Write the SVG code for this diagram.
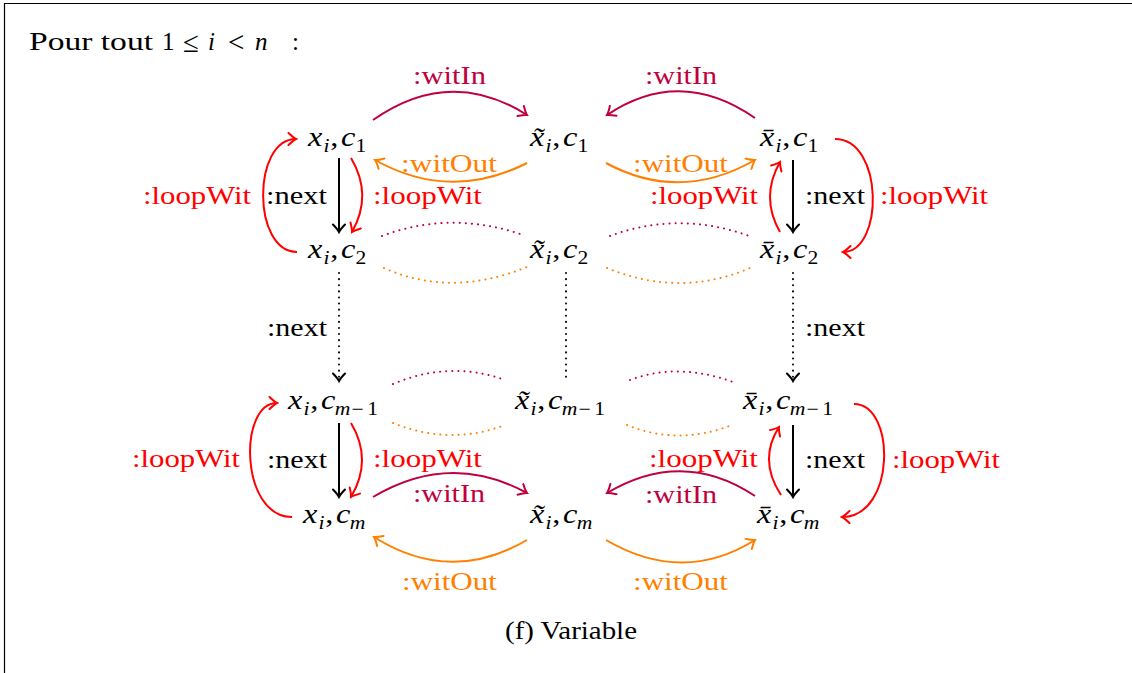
<svg xmlns="http://www.w3.org/2000/svg" width="1132" height="673" viewBox="0 0 1132 673">
<style>
text{font-family:"Liberation Serif","Times New Roman",serif;font-size:25px;fill:#000}
.node text{font-size:27px}
.it{font-style:italic}
.sub{font-size:18px}
.op{font-size:29px}
.e{fill:none;stroke-width:2}
.dot{fill:none;stroke-width:2;stroke-dasharray:0.1 6;stroke-linecap:round}
.blk{stroke:#000}
.red{stroke:#FF0000}
.org{stroke:#FF8000}
.pur{stroke:#BF0040}
.lred{fill:#FF0000}
.lorg{fill:#FF8000}
.lpur{fill:#BF0040}
</style>
<defs>
<marker id="ah-blk" viewBox="-10 -7 12 14" markerWidth="12" markerHeight="14" refX="0" refY="0" orient="auto" markerUnits="userSpaceOnUse"><path d="M-7.5,-6 Q-2.5,-1.2 0,0 Q-2.5,1.2 -7.5,6" fill="none" stroke="#000" stroke-width="2" stroke-linecap="round"/></marker>
<marker id="ah-red" viewBox="-10 -7 12 14" markerWidth="12" markerHeight="14" refX="0" refY="0" orient="auto" markerUnits="userSpaceOnUse"><path d="M-7.5,-6 Q-2.5,-1.2 0,0 Q-2.5,1.2 -7.5,6" fill="none" stroke="#FF0000" stroke-width="2" stroke-linecap="round"/></marker>
<marker id="ah-org" viewBox="-10 -7 12 14" markerWidth="12" markerHeight="14" refX="0" refY="0" orient="auto" markerUnits="userSpaceOnUse"><path d="M-7.5,-6 Q-2.5,-1.2 0,0 Q-2.5,1.2 -7.5,6" fill="none" stroke="#FF8000" stroke-width="2" stroke-linecap="round"/></marker>
<marker id="ah-pur" viewBox="-10 -7 12 14" markerWidth="12" markerHeight="14" refX="0" refY="0" orient="auto" markerUnits="userSpaceOnUse"><path d="M-7.5,-6 Q-2.5,-1.2 0,0 Q-2.5,1.2 -7.5,6" fill="none" stroke="#BF0040" stroke-width="2" stroke-linecap="round"/></marker>
</defs>
<rect width="1132" height="673" fill="#fff"/>
<path d="M4.5,680 V3.5 H1140" fill="none" stroke="#000" stroke-width="1.2"/>
<text id="heading" y="50" font-size="26"><tspan x="29" textLength="124" lengthAdjust="spacingAndGlyphs">Pour tout</tspan><tspan x="162">1</tspan><tspan x="183" y="52" class="op">≤</tspan><tspan x="208" y="50" class="it">i</tspan><tspan x="228" y="52" class="op">&lt;</tspan><tspan x="255" y="50" class="it">n</tspan><tspan x="292">:</tspan></text>

<g id="connectors">
<path class="e pur" d="M373,120 Q450,66 527,115" marker-end="url(#ah-pur)"/>
<path class="e org" d="M527,163 Q450,202 375,160" marker-end="url(#ah-org)"/>
<path class="e pur" d="M755,118 Q680,66 607,115" marker-end="url(#ah-pur)"/>
<path class="e org" d="M606,163 Q680,203 755,160" marker-end="url(#ah-org)"/>
<path class="e blk" d="M339,158 L339,232" marker-end="url(#ah-blk)"/>
<path class="e red" d="M351,158 Q373,195 352,232" marker-end="url(#ah-red)"/>
<path class="e red" d="M297,252 C252,252 252,139 296,139" marker-end="url(#ah-red)"/>
<path class="e blk" d="M793,160 L793,232" marker-end="url(#ah-blk)"/>
<path class="e red" d="M780,232 Q760,197 780,162" marker-end="url(#ah-red)"/>
<path class="e red" d="M835,139 C884,139 884,252 843,252" marker-end="url(#ah-red)"/>
<path class="dot pur" d="M382,236 Q451,210 523,235"/>
<path class="dot org" d="M384,268 Q451,298 527,267"/>
<path class="dot pur" d="M610,236 Q680,210 752,237"/>
<path class="dot org" d="M607,268 Q680,298 750,268"/>
<path class="dot blk" d="M339,273 L339,381" marker-end="url(#ah-blk)"/>
<path class="dot blk" d="M566,273 L566,380"/>
<path class="dot blk" d="M793,273 L793,381" marker-end="url(#ah-blk)"/>
<path class="dot pur" d="M393,384 Q450,360 505,380"/>
<path class="dot org" d="M393,423 Q450,446 505,425"/>
<path class="dot pur" d="M630,380 Q678,362 733,382"/>
<path class="dot org" d="M627,425 Q678,446 732,425"/>
<path class="e blk" d="M339,423 L339,497" marker-end="url(#ah-blk)"/>
<path class="e red" d="M351,423 Q373,460 351,497" marker-end="url(#ah-red)"/>
<path class="e red" d="M292,517 C240,517 238,403 277,403" marker-end="url(#ah-red)"/>
<path class="e pur" d="M373,497 Q450,451 527,493" marker-end="url(#ah-pur)"/>
<path class="e org" d="M527,540 Q450,585 374,537" marker-end="url(#ah-org)"/>
<path class="e blk" d="M793,425 L793,497" marker-end="url(#ah-blk)"/>
<path class="e red" d="M781,495 Q758,460 779,427" marker-end="url(#ah-red)"/>
<path class="e red" d="M854,404 C896,404 896,517 842,517" marker-end="url(#ah-red)"/>
<path class="e pur" d="M755,496 Q683,448 607,493" marker-end="url(#ah-pur)"/>
<path class="e org" d="M606,540 Q683,585 755,540" marker-end="url(#ah-org)"/>

<g id="edge-labels">
<text class="lpur" x="413" y="84" textLength="73" lengthAdjust="spacingAndGlyphs">:witIn</text>
<text class="lpur" x="645" y="84" textLength="72" lengthAdjust="spacingAndGlyphs">:witIn</text>
<text class="lorg" x="401" y="172" textLength="96" lengthAdjust="spacingAndGlyphs">:witOut</text>
<text class="lorg" x="633" y="172" textLength="95" lengthAdjust="spacingAndGlyphs">:witOut</text>
<text x="266" y="204" textLength="61" lengthAdjust="spacingAndGlyphs">:next</text>
<text class="lred" x="373" y="204" textLength="109" lengthAdjust="spacingAndGlyphs">:loopWit</text>
<text class="lred" x="143" y="204" textLength="108" lengthAdjust="spacingAndGlyphs">:loopWit</text>
<text class="lred" x="650" y="204" textLength="108" lengthAdjust="spacingAndGlyphs">:loopWit</text>
<text x="805" y="204" textLength="60" lengthAdjust="spacingAndGlyphs">:next</text>
<text class="lred" x="880" y="204" textLength="108" lengthAdjust="spacingAndGlyphs">:loopWit</text>
<text x="267" y="336" textLength="60" lengthAdjust="spacingAndGlyphs">:next</text>
<text x="805" y="336" textLength="60" lengthAdjust="spacingAndGlyphs">:next</text>
<text x="267" y="468" textLength="60" lengthAdjust="spacingAndGlyphs">:next</text>
<text class="lred" x="373" y="467" textLength="109" lengthAdjust="spacingAndGlyphs">:loopWit</text>
<text class="lred" x="132" y="467" textLength="108" lengthAdjust="spacingAndGlyphs">:loopWit</text>
<text class="lred" x="649" y="467" textLength="109" lengthAdjust="spacingAndGlyphs">:loopWit</text>
<text x="805" y="468" textLength="60" lengthAdjust="spacingAndGlyphs">:next</text>
<text class="lred" x="892" y="468" textLength="108" lengthAdjust="spacingAndGlyphs">:loopWit</text>
<text class="lpur" x="413" y="502" textLength="72" lengthAdjust="spacingAndGlyphs">:witIn</text>
<text class="lpur" x="645" y="503" textLength="72" lengthAdjust="spacingAndGlyphs">:witIn</text>
<text class="lorg" x="402" y="590" textLength="95" lengthAdjust="spacingAndGlyphs">:witOut</text>
<text class="lorg" x="633" y="590" textLength="95" lengthAdjust="spacingAndGlyphs">:witOut</text>
</g>
</g>

<g id="n-x-c1" class="node" transform="translate(308,146) scale(1.2,1)"><text><tspan x="0" y="0" class="it">x</tspan><tspan x="13" y="6" class="it sub">i</tspan><tspan x="18.5" y="0">,</tspan><tspan x="27.5" y="0" class="it">c</tspan><tspan x="39.5" y="6" class="sub">1</tspan></text></g>
<g id="n-xt-c1" class="node" transform="translate(530,146) scale(1.2,1)"><text><tspan x="0" y="0" class="it">x̃</tspan><tspan x="13" y="6" class="it sub">i</tspan><tspan x="18.5" y="0">,</tspan><tspan x="27.5" y="0" class="it">c</tspan><tspan x="39.5" y="6" class="sub">1</tspan></text></g>
<g id="n-xb-c1" class="node" transform="translate(760,146) scale(1.2,1)"><text><tspan x="0" y="0" class="it">x̄</tspan><tspan x="13" y="6" class="it sub">i</tspan><tspan x="18.5" y="0">,</tspan><tspan x="27.5" y="0" class="it">c</tspan><tspan x="39.5" y="6" class="sub">1</tspan></text></g>

<g id="n-x-c2" class="node" transform="translate(308,258) scale(1.2,1)"><text><tspan x="0" y="0" class="it">x</tspan><tspan x="13" y="6" class="it sub">i</tspan><tspan x="18.5" y="0">,</tspan><tspan x="27.5" y="0" class="it">c</tspan><tspan x="39.5" y="6" class="sub">2</tspan></text></g>
<g id="n-xt-c2" class="node" transform="translate(530,258) scale(1.2,1)"><text><tspan x="0" y="0" class="it">x̃</tspan><tspan x="13" y="6" class="it sub">i</tspan><tspan x="18.5" y="0">,</tspan><tspan x="27.5" y="0" class="it">c</tspan><tspan x="39.5" y="6" class="sub">2</tspan></text></g>
<g id="n-xb-c2" class="node" transform="translate(760,258) scale(1.2,1)"><text><tspan x="0" y="0" class="it">x̄</tspan><tspan x="13" y="6" class="it sub">i</tspan><tspan x="18.5" y="0">,</tspan><tspan x="27.5" y="0" class="it">c</tspan><tspan x="39.5" y="6" class="sub">2</tspan></text></g>

<g id="n-x-cm1" class="node" transform="translate(288,409) scale(1.2,1)"><text><tspan x="0" y="0" class="it">x</tspan><tspan x="13" y="6" class="it sub">i</tspan><tspan x="18.5" y="0">,</tspan><tspan x="27.5" y="0" class="it">c</tspan><tspan x="39" y="6" class="it sub">m</tspan><tspan x="53" y="6" class="sub">−</tspan><tspan x="66" y="6" class="sub">1</tspan></text></g>
<g id="n-xt-cm1" class="node" transform="translate(515,409) scale(1.2,1)"><text><tspan x="0" y="0" class="it">x̃</tspan><tspan x="13" y="6" class="it sub">i</tspan><tspan x="18.5" y="0">,</tspan><tspan x="27.5" y="0" class="it">c</tspan><tspan x="39" y="6" class="it sub">m</tspan><tspan x="53" y="6" class="sub">−</tspan><tspan x="66" y="6" class="sub">1</tspan></text></g>
<g id="n-xb-cm1" class="node" transform="translate(743,409) scale(1.2,1)"><text><tspan x="0" y="0" class="it">x̄</tspan><tspan x="13" y="6" class="it sub">i</tspan><tspan x="18.5" y="0">,</tspan><tspan x="27.5" y="0" class="it">c</tspan><tspan x="39" y="6" class="it sub">m</tspan><tspan x="53" y="6" class="sub">−</tspan><tspan x="66" y="6" class="sub">1</tspan></text></g>

<g id="n-x-cm" class="node" transform="translate(303,523) scale(1.2,1)"><text><tspan x="0" y="0" class="it">x</tspan><tspan x="13" y="6" class="it sub">i</tspan><tspan x="18.5" y="0">,</tspan><tspan x="27.5" y="0" class="it">c</tspan><tspan x="39" y="6" class="it sub">m</tspan></text></g>
<g id="n-xt-cm" class="node" transform="translate(530,523) scale(1.2,1)"><text><tspan x="0" y="0" class="it">x̃</tspan><tspan x="13" y="6" class="it sub">i</tspan><tspan x="18.5" y="0">,</tspan><tspan x="27.5" y="0" class="it">c</tspan><tspan x="39" y="6" class="it sub">m</tspan></text></g>
<g id="n-xb-cm" class="node" transform="translate(757,523) scale(1.2,1)"><text><tspan x="0" y="0" class="it">x̄</tspan><tspan x="13" y="6" class="it sub">i</tspan><tspan x="18.5" y="0">,</tspan><tspan x="27.5" y="0" class="it">c</tspan><tspan x="39" y="6" class="it sub">m</tspan></text></g>

<text id="caption" x="505" y="639" font-size="24" textLength="132" lengthAdjust="spacingAndGlyphs">(f) Variable</text>
</svg>
